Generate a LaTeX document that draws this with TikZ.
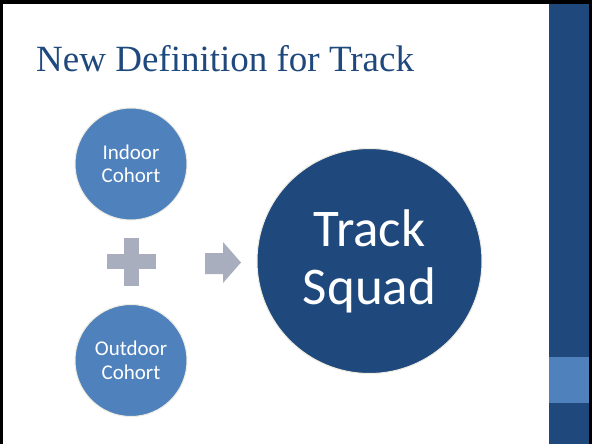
\documentclass[tikz,border=0pt]{standalone}
\usepackage{fontspec}
\setmainfont{Liberation Serif}
\newfontfamily\calfont{Carlito}
\definecolor{darkblue}{HTML}{1F497D}
\definecolor{lightblue}{HTML}{4F81BD}
\definecolor{shapegray}{HTML}{A9AEBE}
\definecolor{rimcream}{HTML}{EEECE1}
\pgfdeclareradialshading{vignette}{\pgfpoint{0bp}{0bp}}{color(0bp)=(white); color(38bp)=(white); color(50bp)=(black!9); color(72bp)=(black!20)}
\tikzset{
  cohort/.style={circle, fill=lightblue, draw=rimcream, line width=1pt, minimum size=112pt, inner sep=0pt, text=white, align=center, font=\calfont\fontsize{21}{23.5}\selectfont},
  result/.style={circle, fill=darkblue, draw=rimcream, line width=1pt, minimum size=225pt, inner sep=0pt, text=white, align=center, font=\calfont\fontsize{53}{58}\selectfont},
  opshape/.style={fill=shapegray, draw=none},
  titletext/.style={text=darkblue, font=\fontsize{37}{40}\selectfont, inner sep=0pt, anchor=base west}
}
\begin{document}
\begin{tikzpicture}[x=1pt, y=-1pt]
\useasboundingbox (0,0) rectangle (592,444);
% slide background
\fill[shading=vignette] (3,4) rectangle (549,444);
% side bar
\fill[darkblue] (549,4) rectangle (589,444);
\fill[lightblue] (549,357) rectangle (589,403);
% frame
\fill[black] (0,0) rectangle (592,4);
\fill[black] (0,0) rectangle (3,444);
\fill[black] (589,0) rectangle (592,444);
% title
\node[titletext] (title) at (36,72) {New Definition for Track};
% circles
\node[cohort] (indoor) at (131,164) {Indoor\\Cohort};
\node[cohort] (outdoor) at (131,360.5) {Outdoor\\Cohort};
\node[result] (squad) at (369.5,261) {Track\\Squad};
% plus
\fill[opshape] (107,254) rectangle (156,269);
\fill[opshape] (124,238) rectangle (139,286);
% arrow
\fill[opshape] (205,253) -- (223,253) -- (223,242) -- (241,262.5) -- (223,283) -- (223,274) -- (205,274) -- cycle;
\end{tikzpicture}
\end{document}
